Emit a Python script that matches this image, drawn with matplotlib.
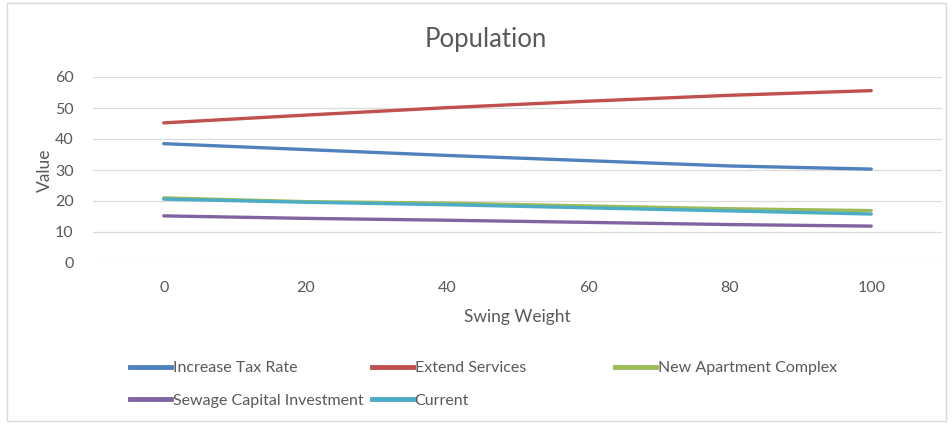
import matplotlib
matplotlib.use('Agg')
import matplotlib.pyplot as plt
from matplotlib.lines import Line2D
from matplotlib.patches import Rectangle

# data
swing = [0, 20, 40, 60, 80, 100]
increase_tax = [38.5, 36.6, 34.7, 33.0, 31.3, 30.3]
extend_services = [45.2, 47.7, 50.1, 52.2, 54.1, 55.6]
new_apartment = [21.0, 19.8, 19.3, 18.4, 17.5, 16.9]
sewage = [15.2, 14.4, 13.8, 13.1, 12.4, 11.9]
current = [20.6, 19.6, 18.8, 17.8, 16.8, 15.8]

names = ['Increase Tax Rate', 'Extend Services', 'New Apartment Complex',
         'Sewage Capital Investment', 'Current']
series = [increase_tax, extend_services, new_apartment, sewage, current]
colors = ['#4F81BD', '#C0504D', '#9BBB59', '#8064A2', '#4BACC6']

plt.rcParams['font.family'] = ['Lato', 'DejaVu Sans']
grey = '#595959'

W, H = 952, 424
fig = plt.figure(figsize=(W / 100, H / 100), dpi=100)
ax = fig.add_axes([93 / W, 1 - 263 / H, (942 - 93) / W, (263 - 77) / H])

for vals, c in zip(series, colors):
    ax.plot(swing, vals, color=c, lw=2.4, solid_capstyle='round')

ax.set_xlim(-10, 110)
ax.set_ylim(0, 60)
ax.set_xticks(range(0, 101, 20))
ax.set_yticks(range(0, 61, 10))
ax.grid(axis='y', color='#DCDCDC', lw=0.9)
ax.set_axisbelow(True)
for s in ax.spines.values():
    s.set_visible(False)
ax.tick_params(length=0, labelsize=11.5, labelcolor=grey)
ax.tick_params(axis='y', pad=14)
ax.tick_params(axis='x', pad=13)
ax.set_xlabel('Swing Weight', fontsize=12.5, color=grey, labelpad=10)
ax.set_ylabel('Value', fontsize=12.5, color=grey, labelpad=1.6)
fig.text(486 / W, 1 - 40 / H, 'Population', fontsize=18.5,
         color=grey, ha='center', va='center')

# legend: three equal-width columns, row-major like the original
handles = [Line2D([], [], color=c, lw=3.5) for c in colors]
cols = [[0, 3], [1, 4], [2]]
col_x = [122, 364, 607]
for idx, x0 in zip(cols, col_x):
    leg = fig.legend([handles[i] for i in idx], [names[i] for i in idx],
                     loc='upper left', bbox_to_anchor=(x0 / W, 1 - 353 / H),
                     frameon=False, fontsize=11.5, handlelength=2.55,
                     handletextpad=0.12, labelspacing=1.15, borderpad=0)
    for t in leg.get_texts():
        t.set_color(grey)

# light chart-area border
fig.patches.append(Rectangle((7 / W, 3 / H), (946 - 7) / W, (421 - 3) / H,
                             transform=fig.transFigure, fill=False,
                             edgecolor='#D9D9D9', lw=1))

fig.savefig('out.png', dpi=100)
